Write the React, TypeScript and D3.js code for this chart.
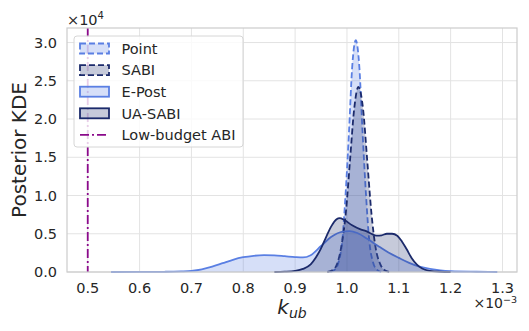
import React, { useEffect, useRef } from 'react';
import * as d3 from 'd3';

// x values in units of 1e-3, densities in units of 1e4
const xTicks = [0.5, 0.6, 0.7, 0.8, 0.9, 1.0, 1.1, 1.2, 1.3];
const yTicks = [0, 0.5, 1.0, 1.5, 2.0, 2.5, 3.0];

const pointX = [0.968, 0.977, 0.984, 0.991, 0.997, 1.004, 1.010, 1.017, 1.024, 1.030, 1.037, 1.043, 1.050, 1.057, 1.066];
const pointY = [0.0, 0.034, 0.133, 0.41, 0.98, 1.84, 2.67, 3.03, 2.67, 1.84, 0.98, 0.41, 0.133, 0.034, 0.0];

const sabiX = [0.962, 0.973, 0.981, 0.989, 0.998, 1.006, 1.014, 1.022, 1.031, 1.039, 1.047, 1.055, 1.064, 1.072, 1.083];
const sabiY = [0.0, 0.027, 0.106, 0.328, 0.784, 1.468, 2.136, 2.42, 2.136, 1.468, 0.784, 0.328, 0.106, 0.027, 0.0];

const epostX = [0.545, 0.6, 0.65, 0.68, 0.7, 0.72, 0.74, 0.76, 0.78, 0.8, 0.82, 0.84, 0.86, 0.88, 0.9, 0.915, 0.93, 0.95, 0.97, 0.99, 1.005, 1.02, 1.04, 1.06, 1.08, 1.1, 1.12, 1.14, 1.16, 1.18, 1.2, 1.25, 1.29];
const epostY = [0.0, 0.001, 0.003, 0.008, 0.015, 0.035, 0.07, 0.115, 0.16, 0.193, 0.212, 0.22, 0.218, 0.207, 0.195, 0.19, 0.22, 0.34, 0.46, 0.525, 0.535, 0.51, 0.43, 0.34, 0.255, 0.185, 0.12, 0.07, 0.04, 0.02, 0.01, 0.003, 0.0];

const uaX = [0.86, 0.88, 0.9, 0.915, 0.93, 0.94, 0.95, 0.96, 0.97, 0.98, 0.986, 0.995, 1.01, 1.025, 1.037, 1.047, 1.057, 1.067, 1.077, 1.087, 1.097, 1.106, 1.115, 1.125, 1.135, 1.145, 1.16, 1.18, 1.2];
const uaY = [0.0, 0.004, 0.015, 0.04, 0.1, 0.19, 0.31, 0.46, 0.6, 0.69, 0.705, 0.68, 0.61, 0.56, 0.535, 0.5, 0.475, 0.48, 0.5, 0.5, 0.475, 0.4, 0.3, 0.18, 0.095, 0.045, 0.015, 0.003, 0.0];

const lowBudgetX = 0.5;

const legendLabels = ['Point', 'SABI', 'E-Post', 'UA-SABI', 'Low-budget ABI'];

const LIGHT = '#5a7fe3';
const NAVY = '#1b2a6b';
const PURPLE = '#8b0a8b';

const W = 529;
const H = 331;
const margin = { top: 28, right: 12, bottom: 59, left: 67 };

const App = () => {
  const ref = useRef(null);

  useEffect(() => {
    const svg = d3.select(ref.current);
    svg.selectAll('*').remove();
    const font = 'DejaVu Sans, sans-serif';
    const textColor = '#262626';

    const x = d3.scaleLinear().domain([0.46, 1.328]).range([margin.left, W - margin.right]);
    const y = d3.scaleLinear().domain([0, 3.19]).range([H - margin.bottom, margin.top]);

    const g = svg.append('g');

    // grid
    g.selectAll('.gx').data(xTicks).enter().append('line')
      .attr('x1', (d) => x(d)).attr('x2', (d) => x(d))
      .attr('y1', margin.top).attr('y2', H - margin.bottom)
      .attr('stroke', '#e3e3e3').attr('stroke-width', 1);
    g.selectAll('.gy').data(yTicks).enter().append('line')
      .attr('x1', margin.left).attr('x2', W - margin.right)
      .attr('y1', (d) => y(d)).attr('y2', (d) => y(d))
      .attr('stroke', '#e3e3e3').attr('stroke-width', 1);

    // purple low budget line
    g.append('line')
      .attr('x1', x(lowBudgetX)).attr('x2', x(lowBudgetX))
      .attr('y1', margin.top).attr('y2', H - margin.bottom)
      .attr('stroke', PURPLE).attr('stroke-width', 1.8)
      .attr('stroke-dasharray', '9,3,2,3');

    const series = [
      { xs: pointX, ys: pointY, color: LIGHT, dash: '6,3' },
      { xs: sabiX, ys: sabiY, color: NAVY, dash: '6,3' },
      { xs: epostX, ys: epostY, color: LIGHT, dash: null },
      { xs: uaX, ys: uaY, color: NAVY, dash: null },
    ];

    const area = d3.area()
      .x((d) => x(d[0])).y0(y(0)).y1((d) => y(d[1]))
      .curve(d3.curveMonotoneX);
    const line = d3.line()
      .x((d) => x(d[0])).y((d) => y(d[1]))
      .curve(d3.curveMonotoneX);

    series.forEach((s) => {
      const pts = s.xs.map((v, i) => [v, s.ys[i]]);
      g.append('path').attr('d', area(pts))
        .attr('fill', s.color).attr('fill-opacity', 0.25).attr('stroke', 'none');
      g.append('path').attr('d', line(pts))
        .attr('fill', 'none').attr('stroke', s.color).attr('stroke-width', 1.8)
        .attr('stroke-dasharray', s.dash);
    });

    // frame
    g.append('rect')
      .attr('x', margin.left).attr('y', margin.top)
      .attr('width', W - margin.left - margin.right)
      .attr('height', H - margin.top - margin.bottom)
      .attr('fill', 'none').attr('stroke', '#cccccc').attr('stroke-width', 1.2);

    // tick labels
    g.selectAll('.tx').data(xTicks).enter().append('text')
      .attr('x', (d) => x(d)).attr('y', 292.5)
      .attr('text-anchor', 'middle').attr('font-family', font).attr('font-size', 14.5)
      .attr('fill', textColor).text((d) => d.toFixed(1));
    g.selectAll('.ty').data(yTicks).enter().append('text')
      .attr('x', 57).attr('y', (d) => y(d)).attr('dy', '0.36em')
      .attr('text-anchor', 'end').attr('font-family', font).attr('font-size', 14.5)
      .attr('fill', textColor).text((d) => d.toFixed(1));

    // offset labels
    const yo = g.append('text').attr('x', margin.left).attr('y', 25)
      .attr('font-family', font).attr('font-size', 14.5).attr('fill', textColor);
    yo.append('tspan').text('×10');
    yo.append('tspan').attr('font-size', 10).attr('dy', -6).text('4');

    const xo = g.append('text').attr('x', W - margin.right).attr('y', 308)
      .attr('text-anchor', 'end')
      .attr('font-family', font).attr('font-size', 14).attr('fill', textColor);
    xo.append('tspan').text('×10');
    xo.append('tspan').attr('font-size', 9.5).attr('dy', -5).text('−3');

    // axis labels
    g.append('text')
      .attr('transform', `translate(26,${(margin.top + H - margin.bottom) / 2}) rotate(-90)`)
      .attr('text-anchor', 'middle').attr('font-family', font).attr('font-size', 20)
      .attr('fill', textColor).text('Posterior KDE');
    const xl = g.append('text')
      .attr('x', (margin.left + W - margin.right) / 2).attr('y', 314)
      .attr('text-anchor', 'middle').attr('font-family', font).attr('font-size', 20)
      .attr('font-style', 'italic').attr('fill', textColor);
    xl.append('tspan').text('k');
    xl.append('tspan').attr('font-size', 14).attr('dy', 4).text('ub');

    // legend
    const lg = g.append('g');
    lg.append('rect')
      .attr('x', 74).attr('y', 36).attr('width', 169).attr('height', 111)
      .attr('rx', 3).attr('fill', 'white').attr('fill-opacity', 0.8)
      .attr('stroke', '#d6d6d6').attr('stroke-width', 1);
    const rowY = (i) => 48.5 + i * 21.6;
    legendLabels.forEach((lab, i) => {
      const yy = rowY(i);
      if (i < 4) {
        const s = series[i];
        lg.append('rect').attr('x', 80).attr('y', yy - 5).attr('width', 29).attr('height', 10)
          .attr('fill', s.color).attr('fill-opacity', 0.25)
          .attr('stroke', s.color).attr('stroke-width', 1.8)
          .attr('stroke-dasharray', s.dash);
      } else {
        lg.append('line').attr('x1', 80).attr('x2', 109).attr('y1', yy).attr('y2', yy)
          .attr('stroke', PURPLE).attr('stroke-width', 1.8)
          .attr('stroke-dasharray', '9,3,2,3');
      }
      lg.append('text').attr('x', 121.5).attr('y', yy).attr('dy', '0.36em')
        .attr('font-family', font).attr('font-size', 14.5).attr('fill', textColor)
        .text(lab);
    });
  }, []);

  return (
    <svg ref={ref} width={W} height={H}
      style={{ position: 'absolute', left: 0, top: 0, background: 'white' }} />
  );
};

export default App;
